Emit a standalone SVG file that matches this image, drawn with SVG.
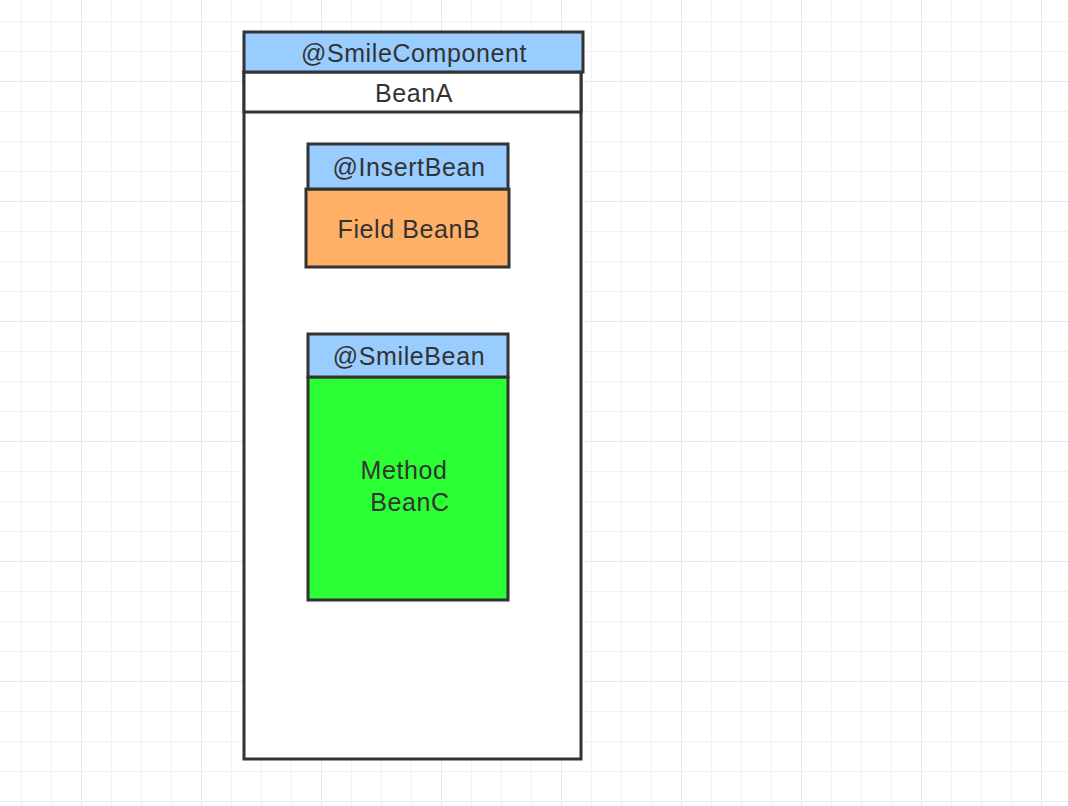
<svg xmlns="http://www.w3.org/2000/svg" width="1068" height="806" viewBox="0 0 1068 806">
<defs>
<pattern id="minor" width="30" height="30" patternUnits="userSpaceOnUse" x="21" y="21">
<path d="M0 0H30M0 0V30" fill="none" stroke="#f2f2f4" stroke-width="2"/>
</pattern>
<pattern id="major" width="120" height="120" patternUnits="userSpaceOnUse" x="81" y="81">
<path d="M0 0H120M0 0V120" fill="none" stroke="#e8e8ee" stroke-width="2"/>
</pattern>
</defs>
<style>
.box{stroke:#333;stroke-width:3}
.hdr{fill:#99ccff}
.t{font-family:"Liberation Sans",Arial,sans-serif;font-size:25px;letter-spacing:0.6px;fill:#333;text-anchor:middle}
</style>
<rect width="1068" height="806" fill="#fff"/>
<rect width="1068" height="806" fill="url(#minor)"/>
<rect width="1068" height="806" fill="url(#major)"/>
<g id="beanA">
<rect class="box" x="244" y="72" width="337" height="687" fill="#fff"/>
<rect class="box" x="244" y="72" width="337" height="40" fill="#fff"/>
<rect class="box hdr" x="244" y="32" width="339" height="40"/>
<text class="t" x="414" y="62">@SmileComponent</text>
<text class="t" x="414" y="102">BeanA</text>
</g>
<g id="fieldBeanB">
<rect class="box" x="306" y="189" width="203" height="78" fill="#ffb066"/>
<rect class="box hdr" x="308" y="144" width="200" height="45"/>
<text class="t" x="409" y="176">@InsertBean</text>
<text class="t" x="409" y="238">Field BeanB</text>
</g>
<g id="methodBeanC">
<rect class="box" x="308" y="377" width="200" height="223" fill="#2aff33"/>
<rect class="box hdr" x="308" y="334" width="200" height="43"/>
<text class="t" x="409" y="365">@SmileBean</text>
<text class="t" x="404" y="479">Method</text>
<text class="t" x="410" y="511">BeanC</text>
</g>
<g id="connectors"/>
</svg>
